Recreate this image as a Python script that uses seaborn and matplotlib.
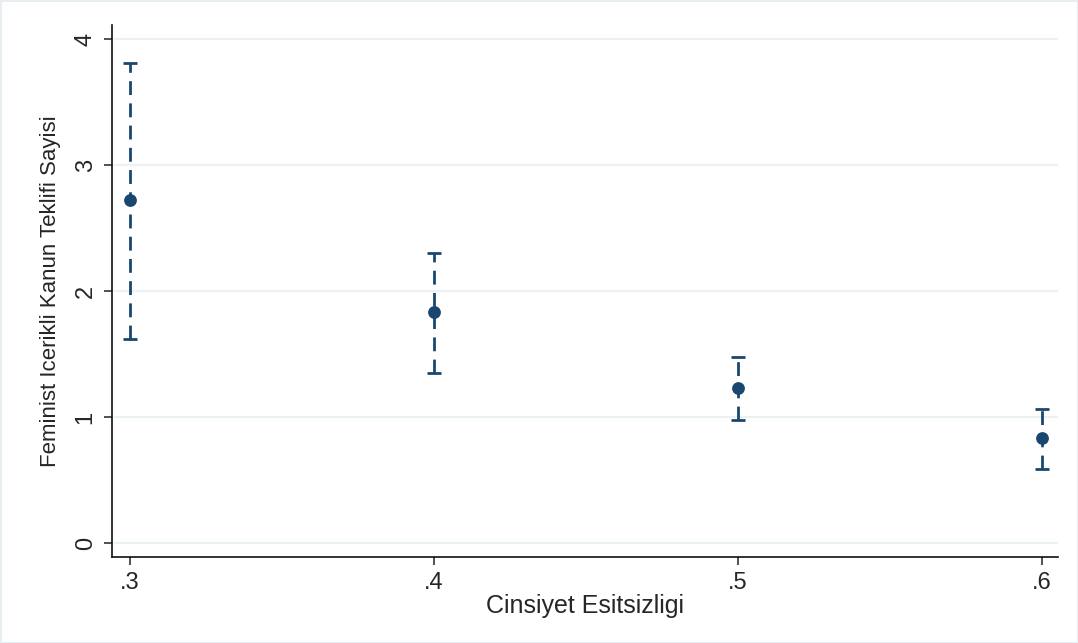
import matplotlib
matplotlib.use("Agg")
import matplotlib.pyplot as plt
import seaborn as sns
import pandas as pd
import numpy as np

x_vals = [0.3, 0.4, 0.5, 0.6]
means = [2.72, 1.83, 1.23, 0.83]
ci_low = [1.62, 1.35, 0.98, 0.59]
ci_high = [3.81, 2.30, 1.48, 1.06]
x_ticks = [0.3, 0.4, 0.5, 0.6]
x_ticklabels = [".3", ".4", ".5", ".6"]
y_ticks = [0, 1, 2, 3, 4]

sns.set_style("white")
plt.rcParams['font.family'] = ['Liberation Sans', 'DejaVu Sans']

color = "#1a476f"
df = pd.DataFrame({"x": x_vals, "m": means, "lo": ci_low, "hi": ci_high})

fig = plt.figure(figsize=(10.78, 6.43), dpi=100)
fig.patch.set_edgecolor("#e6eef2")
fig.patch.set_linewidth(2)
ax = fig.add_axes([112/1078, 1-557/643, (1058-112)/1078, (557-25)/643])

ax.set_xlim(0.2941, 0.6053)
ax.set_ylim(-0.111, 4.111)
for y in y_ticks:
    ax.axhline(y, color="#eaf2f3", lw=1.5, zorder=0)

yerr = [np.array(means) - np.array(ci_low), np.array(ci_high) - np.array(means)]
eb = ax.errorbar(df["x"], df["m"], yerr=yerr, fmt="none", ecolor=color,
                 elinewidth=2, capsize=5, capthick=2, zorder=2)
for lc in eb[2]:
    lc.set_linestyle((0, (5, 3)))
sns.scatterplot(data=df, x="x", y="m", ax=ax, color=color, s=85,
                edgecolor=color, linewidth=0, zorder=3, legend=False)

ax.set_xticks(x_ticks)
ax.set_xticklabels(x_ticklabels)
ax.set_yticks(y_ticks)
ax.set_yticklabels([str(v) for v in y_ticks], rotation=90, va="center")
ax.tick_params(axis="both", labelsize=17, length=6, width=1.2, color="#333333",
               direction="out", bottom=True, left=True, pad=5)
ax.set_xlabel("Cinsiyet Esitsizligi", fontsize=18, labelpad=0)
ax.set_ylabel("Feminist Icerikli Kanun Teklifi Sayisi", fontsize=16, labelpad=10)

for s in ["top", "right"]:
    ax.spines[s].set_visible(False)
for s in ["left", "bottom"]:
    ax.spines[s].set_color("#111111")
    ax.spines[s].set_linewidth(1.2)

fig.savefig("out.png", dpi=100, facecolor="white", edgecolor=fig.get_edgecolor())
